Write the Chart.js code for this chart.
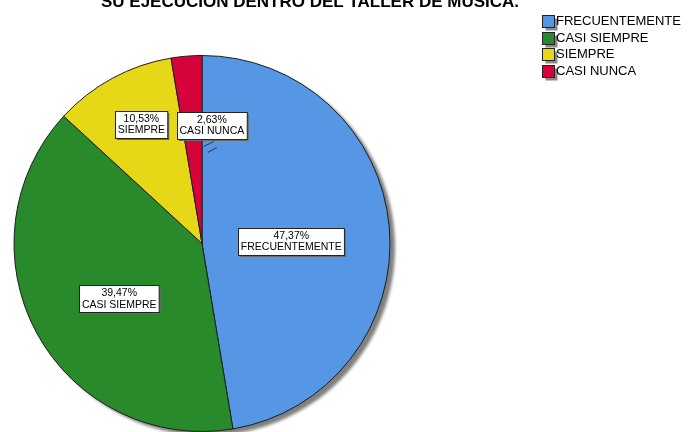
<!DOCTYPE html>
<html>
<head>
<meta charset="utf-8">
<script src="https://cdn.jsdelivr.net/npm/chart.js@4/dist/chart.umd.min.js"></script>
<style>
  html, body { margin: 0; padding: 0; background: #fff; }
  #wrap { position: relative; width: 691px; height: 432px; }
</style>
</head>
<body>
<div id="wrap"><canvas id="c" width="691" height="432"></canvas></div>
<script>
const titleText = "SU EJECUCIÓN DENTRO DEL TALLER DE MÚSICA.";
const categories = ["FRECUENTEMENTE", "CASI SIEMPRE", "SIEMPRE", "CASI NUNCA"];
const counts = [18, 15, 4, 1];
const sliceColors = ["#5597e5", "#288a2a", "#e6d816", "#d6033a"];

const FONT = '"Liberation Sans", Arial, sans-serif';

// label placement: fraction of radius and angle shift (degrees)
const labelPlace = [
  { f: 0.475, da: 3.4 },
  { f: 0.53, da: -5.4 },
  { f: 0.71, da: 1.4 },
  { f: 0.63, da: 9.5 }
];

const shadowPlugin = {
  id: 'pieShadow',
  beforeDatasetsDraw(chart) {
    const el = chart.getDatasetMeta(0).data[0];
    if (!el) return;
    const ctx = chart.ctx;
    ctx.save();
    ctx.filter = 'blur(1.5px)';
    ctx.fillStyle = '#808080';
    ctx.beginPath();
    ctx.arc(el.x + 5, el.y + 4, el.outerRadius, 0, Math.PI * 2);
    ctx.fill();
    ctx.restore();
  }
};

const labelPlugin = {
  id: 'sliceLabels',
  afterDatasetsDraw(chart) {
    const ctx = chart.ctx;
    const meta = chart.getDatasetMeta(0);
    const data = chart.data.datasets[0].data;
    const total = data.reduce((a, b) => a + b, 0);
    ctx.save();
    ctx.font = '10.5px ' + FONT;
    ctx.textAlign = 'center';
    ctx.textBaseline = 'middle';
    meta.data.forEach((el, i) => {
      const p = labelPlace[i];
      const a = (el.startAngle + el.endAngle) / 2 + p.da * Math.PI / 180;
      const r = el.outerRadius * p.f;
      const x = el.x + Math.cos(a) * r;
      const y = el.y + Math.sin(a) * r;
      const l1 = (data[i] / total * 100).toFixed(2).replace('.', ',') + '%';
      const l2 = chart.data.labels[i];
      const w = Math.max(ctx.measureText(l1).width, ctx.measureText(l2).width) + 5;
      const h = 27;
      const bx = Math.round(x - w / 2) + 0.5, by = Math.round(y - h / 2) + 0.5;
      if (i === 3) {
        ctx.strokeStyle = '#333';
        ctx.lineWidth = 1;
        ctx.beginPath();
        ctx.moveTo(x - 8, y + 21); ctx.lineTo(x + 2, y + 16);
        ctx.moveTo(x - 4, y + 27); ctx.lineTo(x + 5, y + 22);
        ctx.stroke();
      }
      ctx.fillStyle = '#6a6a6a';
      ctx.fillRect(bx + 1.5, by + 1.5, w, h);
      ctx.fillStyle = '#fff';
      ctx.fillRect(bx, by, w, h);
      ctx.strokeStyle = '#222';
      ctx.lineWidth = 1;
      ctx.strokeRect(bx, by, w, h);
      ctx.fillStyle = '#000';
      ctx.fillText(l1, x, y - 5.5);
      ctx.fillText(l2, x, y + 6);
    });
    ctx.restore();
  }
};

const legendTitlePlugin = {
  id: 'legendTitle',
  afterDraw(chart) {
    const ctx = chart.ctx;
    ctx.save();
    // title (cut at the top)
    ctx.font = 'bold 17px ' + FONT;
    ctx.fillStyle = '#000';
    ctx.textAlign = 'center';
    ctx.textBaseline = 'alphabetic';
    ctx.fillText(titleText, 310, 7);
    // legend
    ctx.font = '13px ' + FONT;
    ctx.textAlign = 'left';
    ctx.textBaseline = 'middle';
    const colors = chart.data.datasets[0].backgroundColor;
    chart.data.labels.forEach((lab, i) => {
      const cy = 21 + i * 16.7;
      const bx = 542.5, by = Math.round(cy - 6) + 0.5;
      ctx.fillStyle = '#8a8a8a';
      ctx.fillRect(bx + 3, by + 3, 12, 12);
      ctx.fillStyle = colors[i];
      ctx.fillRect(bx, by, 12, 12);
      ctx.strokeStyle = '#222';
      ctx.lineWidth = 1;
      ctx.strokeRect(bx, by, 12, 12);
      ctx.fillStyle = '#000';
      ctx.fillText(lab, 556, cy + 0.5);
    });
    ctx.restore();
  }
};

new Chart(document.getElementById('c'), {
  type: 'pie',
  data: {
    labels: categories,
    datasets: [{
      data: counts,
      backgroundColor: sliceColors,
      borderColor: '#1e1e1e',
      borderWidth: 1
    }]
  },
  options: {
    responsive: false,
    animation: false,
    layout: { padding: { left: 13, right: 300, top: 55, bottom: 0 } },
    plugins: {
      legend: { display: false },
      title: { display: false },
      tooltip: { enabled: false }
    }
  },
  plugins: [shadowPlugin, labelPlugin, legendTitlePlugin]
});
</script>
</body>
</html>
